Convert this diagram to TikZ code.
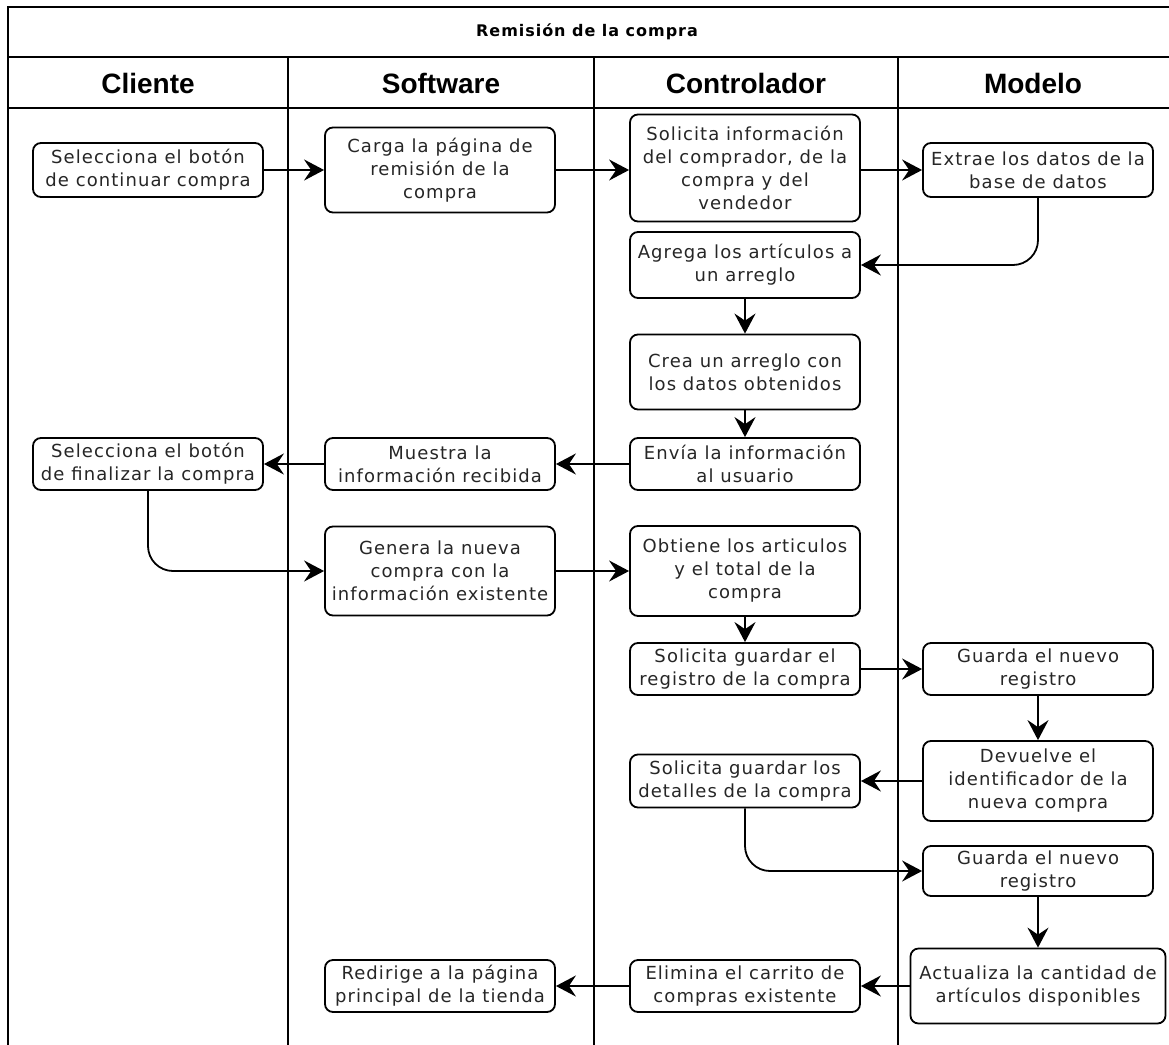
\documentclass[tikz,border=0pt]{standalone}
\usepackage{fontspec}
\usetikzlibrary{arrows.meta}
\newfontfamily\boxfont{DejaVu Sans}[LetterSpace=6]
\newfontfamily\headfont{Liberation Sans}

\tikzset{
  lane/.style={line width=1.8pt, draw=black},
  box/.style={draw=black, line width=1.8pt, rounded corners=8pt, align=center,
    inner sep=2pt, text=black!85, font=\boxfont\fontsize{18}{23}\selectfont},
  flow/.style={line width=1.8pt, draw=black,
    -{Stealth[length=20pt, width=21pt, inset=7pt]}},
  elbowflow/.style={flow, rounded corners=25pt},
  header/.style={font=\headfont\bfseries\fontsize{28}{30}\selectfont},
  titletext/.style={font=\boxfont\bfseries\fontsize{16}{18}\selectfont},
}

\begin{document}
\begin{tikzpicture}[x=1pt, y=-1pt]
  \useasboundingbox (0,0) rectangle (1169,1044);
  \fill[white] (0,0) rectangle (1169,1044);
  \begin{scope}
    \clip (0,0) rectangle (1169,1044);
    % pool frame, title row and lane header row
    \draw[lane] (8,1050) -- (8,7) -- (1180,7);
    \draw[lane] (8,57) -- (1180,57);
    \draw[lane] (8,108) -- (1180,108);
    % lane separators
    \draw[lane] (288,57) -- (288,1050);
    \draw[lane] (594,57) -- (594,1050);
    \draw[lane] (898,57) -- (898,1050);
  \end{scope}

  \node[titletext] (title) at (587,32) {Remisión de la compra};
  \node[header] (hcli) at (148,83) {Cliente};
  \node[header] (hsoft) at (441,83) {Software};
  \node[header] (hctrl) at (746,83) {Controlador};
  \node[header] (hmod) at (1033,83) {Modelo};

  % Cliente
  \node[box, minimum width=230pt, minimum height=54pt] (sel1) at (148,170)
    {Selecciona el botón\\de continuar compra};
  \node[box, minimum width=230pt, minimum height=52pt] (sel2) at (148,464)
    {Selecciona el botón\\de finalizar la compra};

  % Software
  \node[box, minimum width=230pt, minimum height=85pt] (carga) at (440,170)
    {Carga la página de\\remisión de la\\compra};
  \node[box, minimum width=230pt, minimum height=52pt] (muestra) at (440,464)
    {Muestra la\\información recibida};
  \node[box, minimum width=230pt, minimum height=89pt] (genera) at (440,571)
    {Genera la nueva\\compra con la\\información existente};
  \node[box, minimum width=230pt, minimum height=52pt] (redirige) at (440,986)
    {Redirige a la página\\principal de la tienda};

  % Controlador
  \node[box, minimum width=230pt, minimum height=107pt] (solinfo) at (745,168)
    {Solicita información\\del comprador, de la\\compra y del\\vendedor};
  \node[box, minimum width=230pt, minimum height=66pt] (agrega) at (745,265)
    {Agrega los artículos a\\un arreglo};
  \node[box, minimum width=230pt, minimum height=75pt] (crea) at (745,372)
    {Crea un arreglo con\\los datos obtenidos};
  \node[box, minimum width=230pt, minimum height=52pt] (envia) at (745,464)
    {Envía la información\\al usuario};
  \node[box, minimum width=230pt, minimum height=90pt] (obtiene) at (745,571)
    {Obtiene los articulos\\y el total de la\\compra};
  \node[box, minimum width=230pt, minimum height=52pt] (solreg) at (745,669)
    {Solicita guardar el\\registro de la compra};
  \node[box, minimum width=230pt, minimum height=53pt] (soldet) at (745,781)
    {Solicita guardar los\\detalles de la compra};
  \node[box, minimum width=230pt, minimum height=52pt] (elimina) at (745,986)
    {Elimina el carrito de\\compras existente};

  % Modelo
  \node[box, minimum width=230pt, minimum height=54pt] (extrae) at (1038,170)
    {Extrae los datos de la\\base de datos};
  \node[box, minimum width=230pt, minimum height=52pt] (guarda1) at (1038,669)
    {Guarda el nuevo\\registro};
  \node[box, minimum width=230pt, minimum height=80pt] (devuelve) at (1038,781)
    {Devuelve el\\identificador de la\\nueva compra};
  \node[box, minimum width=230pt, minimum height=50pt] (guarda2) at (1038,871)
    {Guarda el nuevo\\registro};
  \node[box, minimum width=255pt, minimum height=75pt] (actualiza) at (1038,986)
    {Actualiza la cantidad de\\artículos disponibles};

  % flow
  \draw[flow] (sel1.east) -- (carga.west);
  \draw[flow] (carga.east) -- (carga.east -| solinfo.west);
  \draw[flow] (carga.east -| solinfo.east) -- (carga.east -| extrae.west);
  \draw[elbowflow] (extrae.south) |- (agrega.east);
  \draw[flow] (agrega.south) -- (crea.north);
  \draw[flow] (crea.south) -- (envia.north);
  \draw[flow] (envia.west) -- (muestra.east);
  \draw[flow] (muestra.west) -- (sel2.east);
  \draw[elbowflow] (sel2.south) |- (genera.west);
  \draw[flow] (genera.east) -- (obtiene.west);
  \draw[flow] (obtiene.south) -- (solreg.north);
  \draw[flow] (solreg.east) -- (guarda1.west);
  \draw[flow] (guarda1.south) -- (devuelve.north);
  \draw[flow] (devuelve.west) -- (soldet.east);
  \draw[elbowflow] (soldet.south) |- (guarda2.west);
  \draw[flow] (guarda2.south) -- (actualiza.north);
  \draw[flow] (actualiza.west) -- (elimina.east);
  \draw[flow] (elimina.west) -- (redirige.east);
\end{tikzpicture}
\end{document}
